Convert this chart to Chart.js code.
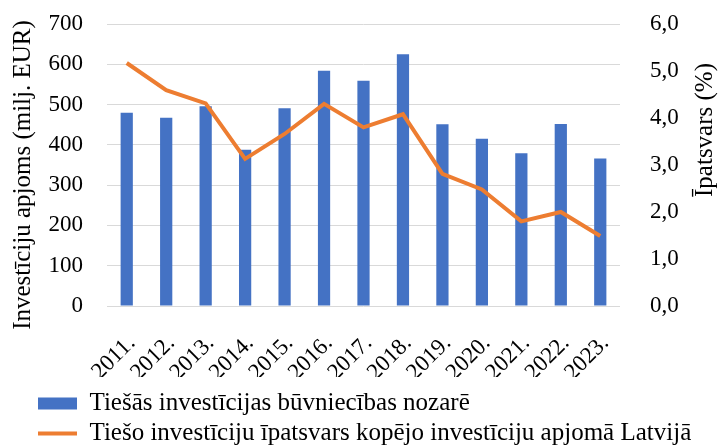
<!DOCTYPE html>
<html>
<head>
<meta charset="utf-8">
<script src="https://cdn.jsdelivr.net/npm/chart.js@4/dist/chart.umd.min.js"></script>
<style>
  html, body { margin: 0; padding: 0; background: #fff; }
  #wrap { width: 718px; height: 447px; }
  #warm { font-family: 'Liberation Serif'; position: absolute; left: -9999px; }
</style>
</head>
<body>
<div id="warm">Tiešās īpatsvars 0123456789</div>
<div id="wrap"><canvas id="chart"></canvas></div>
<script>
  // Data
  const years = ["2011.", "2012.", "2013.", "2014.", "2015.", "2016.", "2017.",
                 "2018.", "2019.", "2020.", "2021.", "2022.", "2023."];
  const investments = [480, 467, 496, 388, 491, 584, 559, 625, 451, 415, 379, 452, 366];
  const share = [5.17, 4.59, 4.31, 3.13, 3.66, 4.30, 3.80, 4.08, 2.81, 2.48, 1.80, 2.00, 1.49];

  const serif = "'Liberation Serif', 'Times New Roman', serif";
  const tickFont = { family: serif, size: 23 };
  const legendFont = { family: serif, size: 25 };
  const titleSize = 25;
  const leftTitle = 'Investīciju apjoms (milj. EUR)';
  const rightTitle = 'Īpatsvars (%)';

  // Axis titles, both reading bottom-to-top like in the reference
  const axisTitles = {
    id: 'axisTitles',
    afterDraw(chart) {
      const ctx = chart.ctx;
      const put = (text, x, y) => {
        ctx.save();
        ctx.font = titleSize + "px " + serif;
        ctx.fillStyle = '#000';
        ctx.textAlign = 'center';
        ctx.textBaseline = 'middle';
        ctx.translate(x, y);
        ctx.rotate(-Math.PI / 2);
        ctx.fillText(text, 0, 0);
        ctx.restore();
      };
      put(leftTitle, 23, 175);
      put(rightTitle, 705, 130);
    }
  };

  // Nudge the legend right and down, like the reference
  const legendShift = {
    id: 'legendShift',
    afterLayout(chart) {
      if (chart.legend) {
        chart.legend.left += 33;
        chart.legend.top += 9;
      }
    }
  };

  function draw() {
    Chart.defaults.font.family = serif;
    Chart.defaults.color = '#000';

    new Chart(document.getElementById('chart'), {
      type: 'bar',
      data: {
        labels: years,
        datasets: [
          {
            type: 'bar',
            label: 'Tiešās investīcijas būvniecības nozarē',
            data: investments,
            backgroundColor: '#4472C4',
            yAxisID: 'y',
            order: 1,
            barPercentage: 0.62,
            categoryPercentage: 0.5,
            pointStyle: 'rect'
          },
          {
            type: 'line',
            label: 'Tiešo investīciju īpatsvars kopējo investīciju apjomā Latvijā',
            data: share,
            borderColor: '#ED7D31',
            backgroundColor: '#ED7D31',
            borderWidth: 4,
            pointRadius: 0,
            tension: 0,
            yAxisID: 'y1',
            order: 0,
            pointStyle: 'line'
          }
        ]
      },
      options: {
        responsive: true,
        maintainAspectRatio: false,
        animation: false,
        layout: { padding: { top: 24, right: 0, left: 0, bottom: 0 } },
        plugins: {
          tooltip: { enabled: false },
          legend: {
            position: 'bottom',
            align: 'start',
            labels: {
              font: legendFont,
              color: '#000',
              usePointStyle: true,
              pointStyleWidth: 39,
              boxHeight: 12,
              padding: 5,
              sort: (a, b) => a.datasetIndex - b.datasetIndex
            }
          }
        },
        scales: {
          x: {
            afterFit: s => { s.height = 71; },
            grid: { display: false },
            border: { display: false },
            ticks: {
              font: tickFont, color: '#000', autoSkip: false,
              minRotation: 45, maxRotation: 45, padding: 16, labelOffset: 5
            }
          },
          y: {
            position: 'left',
            min: 0,
            max: 700,
            afterFit: s => { s.width = 107; },
            ticks: { font: tickFont, color: '#000', stepSize: 100, padding: 2 },
            grid: { color: '#d9d9d9', lineWidth: 1, tickLength: 22, tickColor: 'rgba(0,0,0,0)' },
            border: { display: false }
          },
          y1: {
            position: 'right',
            min: 0,
            max: 6,
            afterFit: s => { s.width = 98; },
            ticks: {
              font: tickFont,
              color: '#000',
              stepSize: 1,
              padding: 2,
              callback: v => v.toFixed(1).replace('.', ',')
            },
            grid: { drawOnChartArea: false, tickLength: 28, tickColor: 'rgba(0,0,0,0)' },
            border: { display: false }
          }
        }
      },
      plugins: [legendShift, axisTitles]
    });
  }

  document.fonts.load("23px 'Liberation Serif'").then(draw, draw);
</script>
</body>
</html>
